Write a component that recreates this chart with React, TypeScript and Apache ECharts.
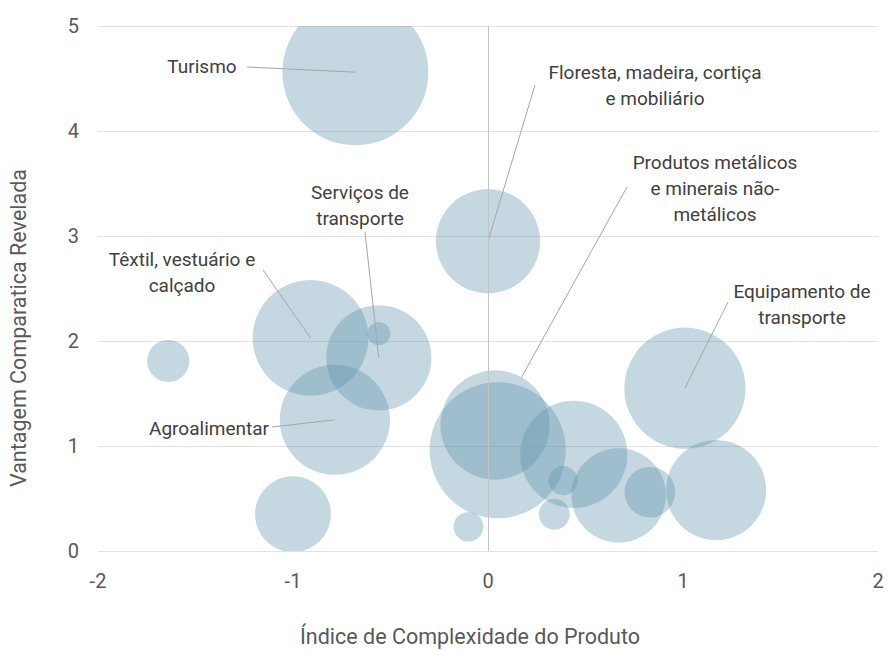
import React, { useEffect, useRef } from "react";
import * as echarts from "echarts";

// ---- Data ----
const sectorNames = [
  "Turismo",
  "Floresta, madeira, cortiça e mobiliário",
  "Produtos metálicos e minerais não-metálicos",
  "Equipamento de transporte",
  "Serviços de transporte",
  "Têxtil, vestuário e calçado",
  "Agroalimentar",
  "",
  "",
  "",
  "",
  "",
  "",
  "",
  "",
  "",
  "",
  "",
];
const complexityIndex = [
  -0.68, 0.0, 0.036, 1.01, -0.56, -0.91, -0.785, 0.05, 1.17, 0.83, 0.67, 0.44,
  0.385, 0.34, -0.1, -1.64, -1.0, -0.56,
];
const revealedAdvantage = [
  4.56, 2.95, 1.2, 1.55, 1.84, 2.03, 1.25, 0.96, 0.58, 0.56, 0.53, 0.92, 0.67,
  0.35, 0.23, 1.81, 0.35, 2.07,
];
const bubbleSize = [
  100, 51, 56, 69, 52, 63, 57, 87, 47, 12, 42, 54, 4, 4.5, 4.2, 8.3, 27, 2.5,
];
const xTicks = [-2, -1, 0, 1, 2];
const yTicks = [0, 1, 2, 3, 4, 5];

// ---- Annotation layout (pixels) ----
const annotations = [
  { idx: 0, text: "Turismo", x: 202, y: 66, from: [247, 67], toEdge: false },
  { idx: 1, text: "Floresta, madeira, cortiça\ne mobiliário", x: 655, y: 72, from: [535, 85], toEdge: false },
  { idx: 2, text: "Produtos metálicos\ne minerais não-\nmetálicos", x: 715, y: 162, from: [627, 187], toEdge: true },
  { idx: 3, text: "Equipamento de\ntransporte", x: 802, y: 291, from: [728, 302], toEdge: false },
  { idx: 4, text: "Serviços de\ntransporte", x: 360, y: 192, from: [365, 232], toEdge: false },
  { idx: 5, text: "Têxtil, vestuário e\ncalçado", x: 182, y: 259, from: [263, 270], toEdge: false },
  { idx: 6, text: "Agroalimentar", x: 209, y: 428, from: [272, 427], toEdge: false },
];

const FONT = "Roboto";
const BUBBLE_FILL = "rgba(89,144,169,0.35)";
const RADIUS_SCALE = 7.3;
const LINE_H = 26;

export default function App() {
  const ref = useRef<HTMLDivElement>(null);

  useEffect(() => {
    if (!ref.current) return;
    const chart = echarts.init(ref.current, undefined, { renderer: "svg" });

    const bubbleData = complexityIndex.map((x, i) => ({
      name: sectorNames[i],
      value: [x, revealedAdvantage[i], bubbleSize[i]],
    }));

    const leaderData = annotations.map((a) => ({
      name: sectorNames[a.idx],
      value: [complexityIndex[a.idx], revealedAdvantage[a.idx], bubbleSize[a.idx]],
    }));

    const option: any = {
      animation: false,
      backgroundColor: "#ffffff",
      grid: { left: 98, right: 10, top: 26, bottom: 99, containLabel: false },
      xAxis: {
        type: "value",
        min: xTicks[0],
        max: xTicks[xTicks.length - 1],
        interval: 1,
        axisLine: { show: false },
        axisTick: { show: false },
        splitLine: { show: false },
        axisLabel: { color: "#595959", fontSize: 20, fontFamily: FONT, margin: 20 },
      },
      yAxis: {
        type: "value",
        min: yTicks[0],
        max: yTicks[yTicks.length - 1],
        interval: 1,
        axisLine: { show: false },
        axisTick: { show: false },
        splitLine: { show: true, lineStyle: { color: "#e2e2e2", width: 1 } },
        axisLabel: { color: "#595959", fontSize: 20, fontFamily: FONT, margin: 19 },
      },
      series: [
        {
          type: "custom",
          name: "Setores",
          clip: true,
          data: bubbleData,
          renderItem: (params: any, api: any) => {
            const p = api.coord([api.value(0), api.value(1)]);
            const r = RADIUS_SCALE * Math.sqrt(api.value(2));
            return {
              type: "circle",
              shape: { cx: p[0], cy: p[1], r },
              style: { fill: BUBBLE_FILL, stroke: "none" },
            };
          },
          markLine: {
            silent: true,
            symbol: "none",
            label: { show: false },
            lineStyle: { color: "#c4c4c4", type: "solid", width: 1 },
            data: [{ xAxis: 0 }],
          },
          z: 2,
        },
        {
          type: "custom",
          name: "Rótulos",
          clip: false,
          data: leaderData,
          renderItem: (params: any, api: any) => {
            const a = annotations[params.dataIndex];
            const p = api.coord([api.value(0), api.value(1)]);
            let end = p;
            if (a.toEdge) {
              const r = RADIUS_SCALE * Math.sqrt(api.value(2));
              const dx = a.from[0] - p[0];
              const dy = a.from[1] - p[1];
              const d = Math.sqrt(dx * dx + dy * dy);
              end = [p[0] + (dx / d) * r, p[1] + (dy / d) * r];
            }
            return {
              type: "line",
              shape: { x1: a.from[0], y1: a.from[1], x2: end[0], y2: end[1] },
              style: { stroke: "#a6a6a6", lineWidth: 1 },
            };
          },
          z: 3,
        },
      ],
      graphic: [
        ...annotations.map((a) => ({
          type: "text",
          x: a.x,
          y: a.y - LINE_H / 2,
          z: 10,
          style: {
            text: a.text,
            fill: "#404040",
            fontSize: 19,
            fontFamily: FONT,
            lineHeight: LINE_H,
            textAlign: "center",
            textVerticalAlign: "top",
          },
        })),
        {
          type: "text",
          x: 470,
          y: 636,
          style: {
            text: "Índice de Complexidade do Produto",
            fill: "#595959",
            fontSize: 21.5,
            fontFamily: FONT,
            textAlign: "center",
            textVerticalAlign: "middle",
          },
        },
        {
          type: "text",
          x: 18,
          y: 328,
          rotation: Math.PI / 2,
          style: {
            text: "Vantagem Comparatica Revelada",
            fill: "#595959",
            fontSize: 21.5,
            fontFamily: FONT,
            textAlign: "center",
            textVerticalAlign: "middle",
          },
        },
      ],
    };

    chart.setOption(option);
    return () => chart.dispose();
  }, []);

  return (
    <div
      ref={ref}
      style={{ position: "fixed", left: 0, top: 0, width: 888, height: 650, background: "#fff" }}
    />
  );
}
